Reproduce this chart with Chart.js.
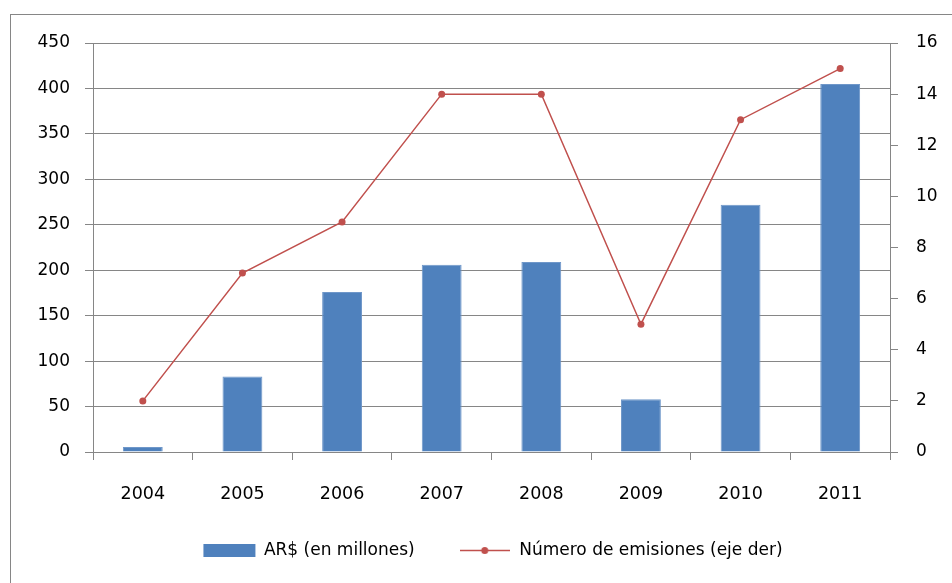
<!DOCTYPE html>
<html>
<head>
<meta charset="utf-8">
<script src="https://cdn.jsdelivr.net/npm/chart.js@4"></script>
<style>
  html, body { margin: 0; padding: 0; background: #ffffff; }
  #wrap { width: 952px; height: 583px; position: relative; }
  canvas { display: block; }
</style>
</head>
<body>
<div id="wrap"><canvas id="chart" width="952" height="583"></canvas></div>
<script>
// Emisiones por año
const years = ['2004', '2005', '2006', '2007', '2008', '2009', '2010', '2011'];
const montoMillones = [5.5, 83, 176, 206, 209, 58, 272, 405];
const numeroEmisiones = [2, 7, 9, 14, 14, 5, 13, 15];
const leftTicks = [0, 50, 100, 150, 200, 250, 300, 350, 400, 450];
const rightTicks = [0, 2, 4, 6, 8, 10, 12, 14, 16];

const seriesNames = ['AR$ (en millones)', 'Número de emisiones (eje der)'];
const BAR_COLOR = '#4F81BD';
const LINE_COLOR = '#C0504D';
const GRID = '#868686';
const FONT = 'DejaVu Sans';

// Small line-and-marker swatch for the line series legend entry
function lineSwatch() {
  const c = document.createElement('canvas');
  c.width = 50; c.height = 9;
  const g = c.getContext('2d');
  g.strokeStyle = LINE_COLOR;
  g.lineWidth = 1.5;
  g.beginPath(); g.moveTo(0, 4.5); g.lineTo(50, 4.5); g.stroke();
  g.fillStyle = LINE_COLOR;
  g.beginPath(); g.arc(25, 4.5, 3.5, 0, Math.PI * 2); g.fill();
  return c;
}

// White background and the outer frame of the chart
const frame = {
  id: 'frame',
  beforeDraw(chart) {
    const ctx = chart.ctx;
    ctx.save();
    ctx.fillStyle = '#ffffff';
    ctx.fillRect(0, 0, chart.width, chart.height);
    ctx.strokeStyle = '#868686';
    ctx.lineWidth = 1;
    ctx.strokeRect(10.5, 14.5, 1000, 700);
    ctx.restore();
  }
};

// The legend block sits a little right of the canvas centre and slightly higher
const legendShift = {
  id: 'legendShift',
  afterLayout(chart) {
    if (chart.legend) {
      chart.legend.left += 34;
      chart.legend.top -= 4;
    }
  }
};

const tickFor = (list) => (value) => list.includes(value) ? String(value) : '';

new Chart(document.getElementById('chart'), {
  data: {
    labels: years,
    datasets: [
      {
        type: 'bar',
        label: seriesNames[0],
        data: montoMillones,
        yAxisID: 'y',
        backgroundColor: BAR_COLOR,
        borderColor: '#6f97c9',
        borderWidth: 1,
        barPercentage: 0.4,
        categoryPercentage: 1.0,
        order: 1
      },
      {
        type: 'line',
        label: seriesNames[1],
        data: numeroEmisiones,
        yAxisID: 'y1',
        borderColor: LINE_COLOR,
        backgroundColor: LINE_COLOR,
        borderWidth: 1.5,
        pointRadius: 3.5,
        pointHoverRadius: 3.5,
        pointBackgroundColor: LINE_COLOR,
        pointBorderWidth: 0,
        tension: 0,
        fill: false,
        order: 0
      }
    ]
  },
  options: {
    responsive: false,
    animation: false,
    devicePixelRatio: 1,
    layout: { padding: { top: 43, left: 0, right: 0, bottom: 10 } },
    plugins: {
      tooltip: { enabled: false },
      legend: {
        position: 'bottom',
        labels: {
          usePointStyle: true,
          pointStyleWidth: 52,
          boxHeight: 13,
          padding: 44,
          color: '#000000',
          font: { family: FONT, size: 17 },
          generateLabels(chart) {
            const ds = chart.data.datasets;
            return [
              { text: ds[0].label, fillStyle: BAR_COLOR, strokeStyle: BAR_COLOR, lineWidth: 0,
                pointStyle: 'rect', datasetIndex: 0, hidden: false, fontColor: '#000000' },
              { text: ds[1].label, fillStyle: LINE_COLOR, strokeStyle: LINE_COLOR, lineWidth: 0,
                pointStyle: lineSwatch(), datasetIndex: 1, hidden: false, fontColor: '#000000' }
            ];
          }
        }
      }
    },
    scales: {
      x: {
        type: 'category',
        offset: true,
        afterFit(scale) { scale.height = 50; },
        grid: {
          display: true,
          offset: true,
          drawOnChartArea: false,
          drawTicks: true,
          tickLength: 8,
          color: GRID
        },
        border: { display: true, color: GRID, width: 1 },
        ticks: {
          color: '#000000',
          font: { family: FONT, size: 17.5 },
          padding: 24,
          maxRotation: 0
        }
      },
      y: {
        position: 'left',
        min: 0,
        max: 450,
        afterFit(scale) { scale.width = 93; },
        afterBuildTicks(scale) { scale.ticks = leftTicks.map(v => ({ value: v })); },
        grid: { color: GRID, lineWidth: 1, drawTicks: true, tickLength: 8 },
        border: { display: true, color: GRID, width: 1 },
        ticks: {
          color: '#000000',
          font: { family: FONT, size: 17 },
          padding: 15,
          callback: tickFor(leftTicks)
        }
      },
      y1: {
        position: 'right',
        min: 0,
        max: 16,
        afterFit(scale) { scale.width = 62; },
        afterBuildTicks(scale) { scale.ticks = rightTicks.map(v => ({ value: v })); },
        grid: { drawOnChartArea: false, color: GRID, lineWidth: 1, drawTicks: true, tickLength: 8 },
        border: { display: true, color: GRID, width: 1 },
        ticks: {
          color: '#000000',
          font: { family: FONT, size: 17 },
          padding: 18,
          callback: tickFor(rightTicks)
        }
      }
    }
  },
  plugins: [frame, legendShift]
});
</script>
</body>
</html>
